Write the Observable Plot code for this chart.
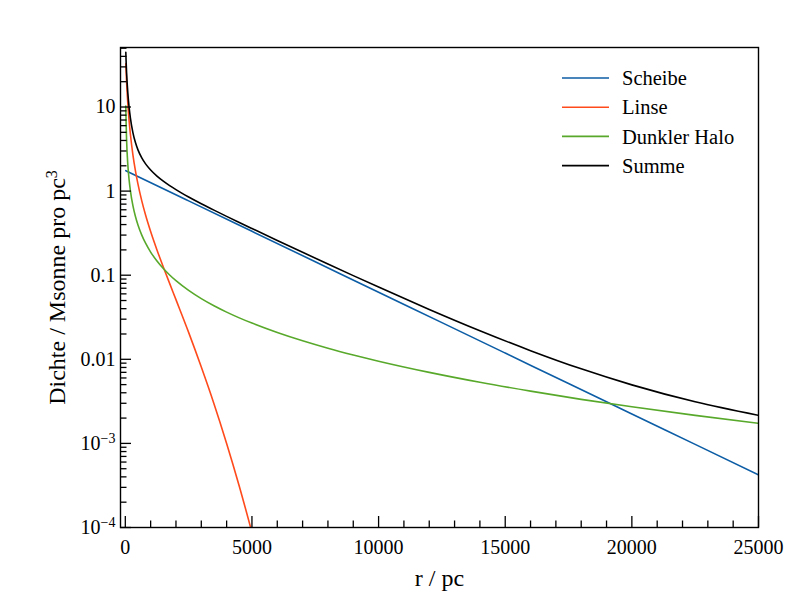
<!DOCTYPE html>
<html><head><meta charset="utf-8">
<script src="https://cdn.jsdelivr.net/npm/d3@7"></script>
<script src="https://cdn.jsdelivr.net/npm/@observablehq/plot@0.6"></script>
<style>body{margin:0;background:#fff} #chart{width:799px;height:599px}</style>
</head><body><div id="chart"></div>
<script>
// ---- data ----
const seriesNames = ["Scheibe", "Linse", "Dunkler Halo", "Summe"];
const seriesColors = ["#0C5DA5", "#FF4A1C", "#58A92B", "#000000"];

const scheibeR = [20, 2500, 5000, 7500, 10000, 12500, 15000, 17500, 20000, 22500, 25000];
const scheibeV = [1.748, 0.765, 0.3325, 0.1445, 0.0628, 0.0273, 0.01186, 0.00515, 0.00224, 0.000973, 0.000423];

const linseR = [20, 25, 50, 100, 150, 200, 300, 400, 500, 650, 800, 1000, 1250, 1500, 1750, 2000, 2500, 3000, 3500, 4000, 4500, 5000];
const linseV = [32.7, 29.8, 19.9, 10.86, 6.88, 4.78, 2.70, 1.739, 1.208, 0.765, 0.519, 0.3305, 0.1997, 0.1252, 0.0799, 0.0512, 0.0209, 0.0081, 0.00297, 0.00100, 0.00031, 0.0000874];

const haloR = [20, 25, 50, 100, 150, 200, 300, 400, 500, 650, 800, 1000, 1250, 1500, 1750, 2000, 2500, 3000, 3500, 4000, 4500, 5000, 6000, 7000, 8000, 9000, 10000, 12000, 14000, 16000, 18000, 20000, 22500, 25000];
const haloV = [10.3, 8.26, 4.12, 2.05, 1.36, 1.016, 0.671, 0.498, 0.395, 0.2996, 0.240, 0.1885, 0.1474, 0.1200, 0.1006, 0.0861, 0.0660, 0.0527, 0.0433, 0.0364, 0.0311, 0.02694, 0.02083, 0.0166, 0.01354, 0.01126, 0.00949, 0.00699, 0.00533, 0.00418, 0.00334, 0.002725, 0.002153, 0.001734];

const summeR = [20, 25, 50, 100, 150, 200, 300, 400, 500, 650, 800, 1000, 1250, 1500, 1750, 2000, 2500, 3000, 3500, 4000, 4500, 5000, 6000, 7000, 8000, 9000, 10000, 12000, 14000, 16000, 18000, 20000, 22500, 25000];
const summeV = [44.75, 39.8, 25.75, 14.61, 9.91, 7.44, 4.97, 3.777, 3.093, 2.482, 2.106, 1.780, 1.508, 1.313, 1.163, 1.041, 0.852, 0.708, 0.594, 0.501, 0.424, 0.3595, 0.259, 0.1873, 0.1358, 0.0989, 0.0723, 0.0392, 0.02187, 0.01268, 0.0077, 0.004965, 0.003126, 0.002157];

const xMajorTicks = [0, 5000, 10000, 15000, 20000, 25000];
const xMinorStep = 1000;
const yMajorTicks = [1e-4, 1e-3, 0.01, 0.1, 1, 10];
const yTickLabels = ["10^-4", "10^-3", "0.01", "0.1", "1", "10"];
const xDomain = [-190, 25000];
const yDomain = [1e-4, 51];

// ---- build table ----
const rows = [];
[[scheibeR, scheibeV], [linseR, linseV], [haloR, haloV], [summeR, summeV]].forEach(([R, V], k) => {
  R.forEach((r, i) => rows.push({r, v: V[i], series: seriesNames[k]}));
});

const xMinor = d3.range(0, 25001, xMinorStep).filter(d => !xMajorTicks.includes(d));
const yMinor = [];
for (let e = -4; e <= 1; e++) for (let k = 2; k <= 9; k++) {
  const v = k * Math.pow(10, e);
  if (v <= yDomain[1]) yMinor.push(v);
}

const W = 799, H = 599, ML = 120, MR = 41, MT = 47, MB = 72;
const blank = () => "";

const chart = Plot.plot({
  width: W, height: H,
  marginLeft: ML, marginRight: MR, marginTop: MT, marginBottom: MB,
  style: {fontFamily: "Liberation Serif", fontSize: "20px", background: "white", color: "#000"},
  x: {domain: xDomain},
  y: {type: "log", domain: yDomain},
  color: {domain: seriesNames, range: seriesColors},
  marks: [
    Plot.line(rows, {x: "r", y: "v", z: "series", stroke: "series", strokeWidth: 1.6, curve: "monotone-x", clip: true}),
    Plot.frame({stroke: "#000", strokeWidth: 1.4}),
    // labels
    Plot.axisX(xMajorTicks, {tickSize: 0, tickPadding: 12, fontSize: 20, label: null, tickFormat: d => String(d)}),
    Plot.axisY(yMajorTicks, {tickSize: 0, tickPadding: 5, fontSize: 20, label: null,
      tickFormat: d => yTickLabels[yMajorTicks.indexOf(d)]}),
    // inward tick marks
    Plot.axisX(xMajorTicks, {tickSize: 11, dy: -11, tickFormat: blank, label: null, strokeWidth: 1.3}),
    Plot.axisX(xMinor, {tickSize: 6.5, dy: -6.5, tickFormat: blank, label: null, strokeWidth: 1.3}),
    Plot.axisY(yMajorTicks, {tickSize: 11, dx: 11, tickFormat: blank, label: null, strokeWidth: 1.3}),
    Plot.axisY(yMinor, {tickSize: 6.5, dx: 6.5, tickFormat: blank, label: null, strokeWidth: 1.3}),
    Plot.text(["r / pc"], {text: d => d, frameAnchor: "bottom", textAnchor: "middle", lineAnchor: "middle", dy: 51, fontSize: 24}),
    Plot.text(["Dichte / Msonne pro pc"], {text: d => d, frameAnchor: "left", textAnchor: "middle", lineAnchor: "middle", dx: -63, rotate: -90, fontSize: 24, className: "ylab"})
  ]
});
document.getElementById("chart").appendChild(chart);

const svg = d3.select(chart);

// superscript exponents on y tick labels
svg.selectAll('g[aria-label="y-axis tick label"] text').each(function () {
  const m = this.textContent.match(/^10\^(.+)$/);
  if (m) {
    const el = d3.select(this);
    el.text(null);
    el.append("tspan").text("10");
    el.append("tspan").attr("dy", "-0.5em").attr("font-size", "14px").text(m[1].replace("-", "\u2212"));
  }
});
// superscript 3 on y label
svg.selectAll(".ylab text").each(function () {
  d3.select(this).append("tspan").attr("dy", "-0.5em").attr("font-size", "16px").text("3");
});

// legend
const leg = svg.append("g").attr("font-family", "Liberation Serif").attr("font-size", 20.5).attr("text-anchor", "start");
seriesNames.forEach((name, i) => {
  const y = 78 + i * 29.2;
  leg.append("line").attr("x1", 562).attr("x2", 609).attr("y1", y).attr("y2", y)
    .attr("stroke", seriesColors[i]).attr("stroke-width", 1.6);
  leg.append("text").attr("x", 622).attr("y", y).attr("dy", "0.35em").attr("fill", "#000").text(name);
});
</script>
</body></html>
